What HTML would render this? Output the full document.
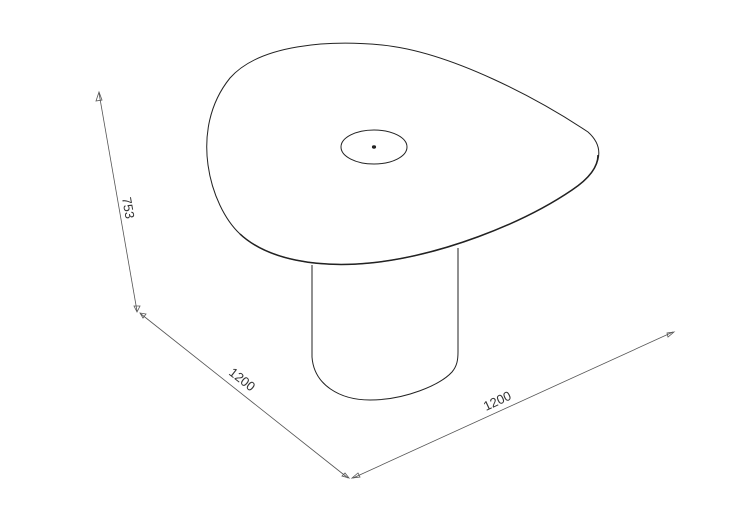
<!DOCTYPE html>
<html><head><style>html,body{margin:0;padding:0;background:#fff;}svg{display:block}</style></head>
<body>
<svg width="750" height="523" viewBox="0 0 750 523" xmlns="http://www.w3.org/2000/svg" font-family="Liberation Sans, sans-serif">
<g fill="none" stroke="#222" stroke-width="1">
<path d="M230,78 C260,44 330,40 382,45 C452,52 540,100 588,132 C606,148 602,170 572,190 C522,224 440,256 370,263 C318,268 268,260 240,234 C210,206 188,130 230,78 Z"/>
<path d="M240,234 C268,260 318,268 370,263 C440,256 522,224 572,190 C590,178 598,166 598,155" stroke-width="1.5"/>
<path d="M312,265 L312,357 C314,385 340,400 370,400 C405,400 440,385 452,372 C457,366 458,360 458,352 L458,248"/>
<ellipse cx="374" cy="147" rx="33" ry="17"/>
<ellipse cx="374" cy="147" rx="1.6" ry="1.2" fill="#222"/>
</g>
<g stroke="#555" stroke-width="0.8" fill="none">
<line x1="99" y1="93" x2="137" y2="311"/>
<path d="M99,92 L96,101 L102,100 Z"/>
<path d="M137,312 L134,306 L140,306 Z"/>
<line x1="141" y1="314" x2="348" y2="478"/>
<path d="M140,313 L146,314 L143,318 Z"/>
<path d="M349,478 L342,476 L345,473 Z"/>
<line x1="353" y1="478" x2="673" y2="332"/>
<path d="M352,478 L358,473 L360,477 Z"/>
<path d="M674,332 L667,333 L668,337 Z"/>
</g>
<g fill="#333" font-size="13">
<text x="0" y="0" transform="translate(122,198) rotate(80)">753</text>
<text x="0" y="0" transform="translate(228,374) rotate(38)">1200</text>
<text x="0" y="0" transform="translate(486,411) rotate(-25)">1200</text>
</g>
</svg>
</body></html>
